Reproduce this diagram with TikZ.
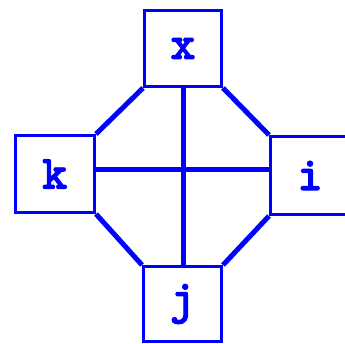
\documentclass[tikz,border=0pt]{standalone}
\usepackage{fontspec}
\newfontfamily\lmttbold[FakeBold=2]{lmmonolt10-bold.otf}
\begin{document}
\begin{tikzpicture}[x=1pt,y=1pt,
  vbox/.style={draw=blue, line width=3pt, inner sep=0pt, text=blue,
    font=\lmttbold\fontsize{48}{48}\selectfont},
  edge/.style={draw=blue, line width=5pt}]
\useasboundingbox (0,0) rectangle (345,-344);
\clip (0,0) rectangle (345,-344);
\node[vbox, minimum width=77pt, minimum height=76pt] (x) at (183,-48.5) {x};
\node[vbox, minimum width=79.5pt, minimum height=77pt] (k) at (54.75,-174) {k};
\node[vbox, minimum width=79pt, minimum height=78pt] (i) at (310,-175.5) {i};
\node[vbox, minimum width=78pt, minimum height=75pt] (j) at (182.5,-304) {j};
\coordinate (ctr) at (183,-170);
\draw[edge] (x.south west) -- (k.north east);
\draw[edge] (x.south east) -- (i.north west);
\draw[edge] (k.south east) -- (j.north west);
\draw[edge] (i.south west) -- (j.north east);
\draw[edge] (x.south -| ctr) -- (j.north -| ctr);
\draw[edge] (k.east |- ctr) -- (i.west |- ctr);
\end{tikzpicture}
\end{document}
